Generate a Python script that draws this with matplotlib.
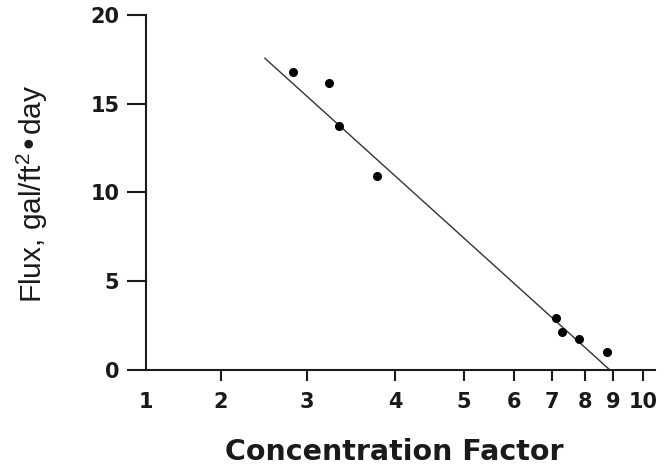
import matplotlib
matplotlib.use('Agg')
import matplotlib.pyplot as plt
import numpy as np

# ── data ──────────────────────────────────────────────────────────────────────
conc = [2.84, 3.25, 3.36, 3.80, 7.11, 7.31, 7.82, 8.80]
flux = [16.80, 16.15, 13.75, 10.93, 2.92, 2.13, 1.72, 1.00]
fit_conc = [2.51, 8.87]
fit_flux = [17.56, 0.0]

x_ticks = [1, 2, 3, 4, 5, 6, 7, 8, 9, 10]
y_ticks = [0, 5, 10, 15, 20]

# ── x scale: the original axis spacing is irregular, so map it piecewise ──────
SCALE_VALS = [1, 2, 3, 4, 5, 6, 7, 8, 9, 10, 10.4]
SCALE_POS = [146, 221, 307, 395, 464, 514, 552, 585, 613, 643, 655]


def fwd(x):
    return np.interp(x, SCALE_VALS, SCALE_POS)


def inv(p):
    return np.interp(p, SCALE_POS, SCALE_VALS)


C_INK = '#1a1a1a'
W, H = 667, 466

fig = plt.figure(figsize=(W / 100, H / 100), dpi=100)
ax = fig.add_axes([146 / W, 96.5 / H, (655 - 146) / W, 354.5 / H])
ax.set_xscale('function', functions=(fwd, inv))

ax.plot(fit_conc, fit_flux, color='#333333', lw=1.0, zorder=2)
ax.plot(conc, flux, 'o', color='black', ms=5.5, zorder=3)

ax.set_xlim(1, 10.4)
ax.set_ylim(0, 20)

for side in ('top', 'right'):
    ax.spines[side].set_visible(False)
for side in ('left', 'bottom'):
    ax.spines[side].set_linewidth(1.5)
    ax.spines[side].set_color(C_INK)

ax.set_xticks(x_ticks)
ax.set_xticklabels([str(v) for v in x_ticks])
ax.set_yticks(y_ticks)
ax.set_yticklabels([str(v) for v in y_ticks])
ax.minorticks_off()

ax.tick_params(axis='x', direction='out', length=8, width=1.5, color=C_INK,
               pad=8, labelsize=15, labelcolor=C_INK)
ax.tick_params(axis='y', direction='out', length=13.7, width=1.5, color=C_INK,
               pad=5.5, labelsize=15, labelcolor=C_INK)
for lab in ax.get_xticklabels() + ax.get_yticklabels():
    lab.set_fontweight('bold')
ax.xaxis.get_major_ticks()[0].tick1line.set_visible(False)

fig.text(394 / W, 1 - 451.5 / H, 'Concentration Factor', ha='center',
         va='center', fontsize=20.5, fontweight='bold', color=C_INK)
fig.text(32 / W, 1 - 194 / H, r'Flux, gal/ft$^{\mathregular{2}}$•day',
         rotation=90, ha='center', va='center', fontsize=21.5,
         family='Liberation Sans', color=C_INK)

fig.savefig('out.png', dpi=100)
